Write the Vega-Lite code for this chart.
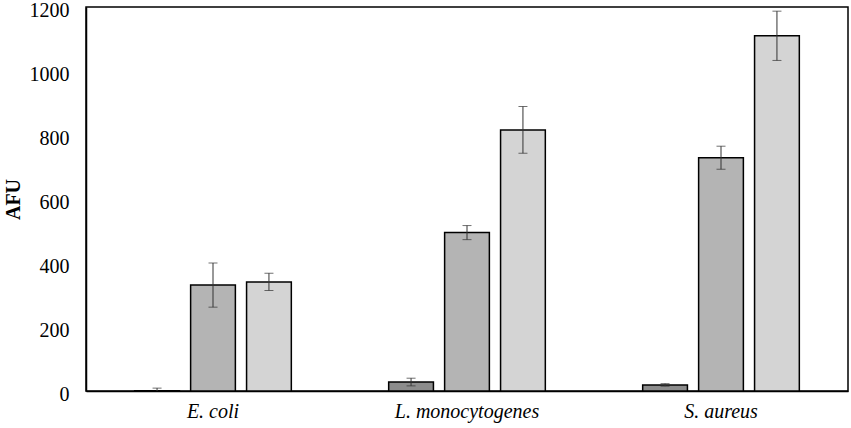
{
  "$schema": "https://vega.github.io/schema/vega-lite/v6.json",
  "width": 762,
  "height": 384,
  "autosize": {"type": "none"},
  "padding": {"left": 86, "top": 7, "right": 3, "bottom": 37},
  "background": "white",
  "data": {
    "values": [
      {"organism": "E. coli", "series": "s1", "afu": 1, "err": 8},
      {"organism": "E. coli", "series": "s2", "afu": 331, "err": 69},
      {"organism": "E. coli", "series": "s3", "afu": 341, "err": 27},
      {"organism": "L. monocytogenes", "series": "s1", "afu": 28, "err": 12},
      {"organism": "L. monocytogenes", "series": "s2", "afu": 495, "err": 22},
      {"organism": "L. monocytogenes", "series": "s3", "afu": 816, "err": 73},
      {"organism": "S. aureus", "series": "s1", "afu": 19, "err": 4},
      {"organism": "S. aureus", "series": "s2", "afu": 729, "err": 36},
      {"organism": "S. aureus", "series": "s3", "afu": 1110, "err": 77}
    ]
  },
  "transform": [
    {"calculate": "datum.afu - datum.err", "as": "lo"},
    {"calculate": "datum.afu + datum.err", "as": "hi"}
  ],
  "encoding": {
    "x": {
      "field": "organism",
      "type": "nominal",
      "sort": null,
      "scale": {"paddingInner": 0, "paddingOuter": 0},
      "axis": {
        "title": null,
        "labelAngle": 0,
        "labelFont": "Liberation Serif",
        "labelFontStyle": "italic",
        "labelFontSize": 20,
        "labelColor": "black",
        "labelPadding": 10,
        "ticks": false,
        "tickSize": 0,
        "domainColor": "black",
        "domainWidth": 1.5
      }
    },
    "xOffset": {
      "field": "series",
      "type": "nominal",
      "scale": {"paddingInner": 0.2, "paddingOuter": 0.87}
    }
  },
  "layer": [
    {
      "mark": {"type": "bar", "stroke": "black", "strokeWidth": 1.5},
      "encoding": {
        "y": {
          "field": "afu",
          "type": "quantitative",
          "scale": {"domain": [0, 1200], "nice": false},
          "axis": {
            "title": "AFU",
            "titleFont": "Liberation Serif",
            "titleFontWeight": "bold",
            "titleFontSize": 20,
            "titleColor": "black",
            "titlePadding": 6,
            "values": [0, 200, 400, 600, 800, 1000, 1200],
            "format": "d",
            "labelFont": "Liberation Serif",
            "labelFontSize": 20,
            "labelColor": "black",
            "labelPadding": 17,
            "labelOffset": 3,
            "labelBound": false,
            "ticks": false,
            "tickSize": 0,
            "grid": false,
            "domainColor": "black",
            "domainWidth": 1.5
          }
        },
        "fill": {
          "field": "series",
          "type": "nominal",
          "scale": {"domain": ["s1", "s2", "s3"], "range": ["#8c8c8c", "#b4b4b4", "#d4d4d4"]},
          "legend": null
        }
      }
    },
    {
      "mark": {"type": "rule", "color": "#333333", "strokeWidth": 1, "clip": true},
      "encoding": {
        "y": {"field": "lo", "type": "quantitative"},
        "y2": {"field": "hi"}
      }
    },
    {
      "mark": {"type": "tick", "color": "#333333", "thickness": 1, "size": 9, "clip": true},
      "encoding": {"y": {"field": "hi", "type": "quantitative"}}
    },
    {
      "mark": {"type": "tick", "color": "#333333", "thickness": 1, "size": 9, "clip": true},
      "encoding": {"y": {"field": "lo", "type": "quantitative"}}
    }
  ],
  "config": {
    "view": {"stroke": "black", "strokeWidth": 1.5}
  }
}
